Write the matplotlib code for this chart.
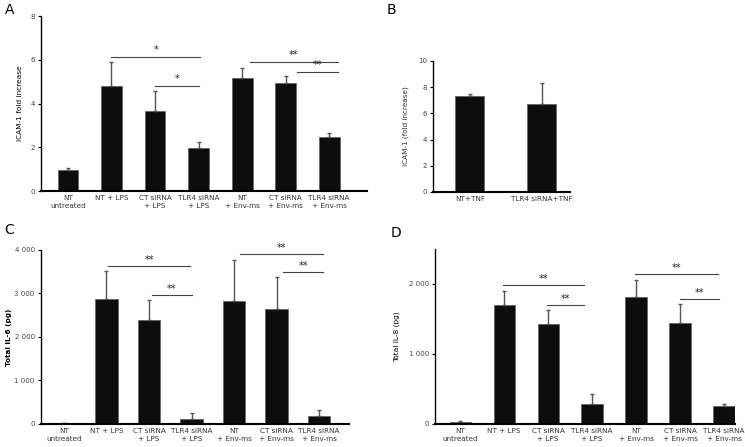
import matplotlib
matplotlib.use("Agg")
import matplotlib.pyplot as plt
from matplotlib.ticker import FuncFormatter

plt.rcParams['font.family'] = ['DejaVu Sans']

# category labels
groups7 = ["NT\nuntreated", "NT + LPS", "CT siRNA\n+ LPS", "TLR4 siRNA\n+ LPS",
           "NT\n+ Env-ms", "CT siRNA\n+ Env-ms", "TLR4 siRNA\n+ Env-ms"]
groups_b = ["NT+TNF", "TLR4 siRNA+TNF"]

# panel A: ICAM-1 fold increase
icam_a = [0.98, 4.80, 3.66, 1.95, 5.16, 4.92, 2.46]
icam_a_err = [0.06, 1.11, 0.91, 0.28, 0.48, 0.33, 0.18]
sig_a = [(1.0, 3.03, 6.14, "*"), (2.0, 3.01, 4.8, "*"),
         (4.18, 6.2, 5.9, "**"), (5.26, 6.2, 5.45, "**")]

# panel B: ICAM-1 with TNF
icam_b = [7.33, 6.72]
icam_b_err = [0.16, 1.63]

# panel C: total IL-6
il6 = [15, 2880, 2385, 125, 2820, 2650, 185]
il6_err = [5, 640, 465, 120, 950, 720, 135]
sig_c = [(1.04, 2.96, 3640, "**"), (2.07, 3.0, 2958, "**"),
         (4.14, 6.09, 3900, "**"), (5.15, 6.09, 3487, "**")]

# panel D: total IL-8
il8 = [30, 1705, 1430, 280, 1810, 1445, 262]
il8_err = [14, 195, 200, 145, 250, 265, 22]
sig_d = [(0.98, 2.82, 1986, "**"), (1.97, 2.82, 1700, "**"),
         (3.98, 5.86, 2143, "**"), (4.99, 5.88, 1786, "**")]


def thousands(v, pos):
    return "{:,}".format(int(v)).replace(",", " ")


def draw_bars(ax, labels, vals, errs, width):
    x = list(range(len(vals)))
    ax.bar(x, vals, width=width, color="#0d0d0d", edgecolor="#666666", linewidth=0.6,
           yerr=[[0] * len(errs), errs], capsize=1.5,
           error_kw=dict(ecolor="#555555", elinewidth=1.0, capthick=1.0))
    ax.set_xticks(x)
    ax.set_xticklabels(labels, fontsize=5.2, color="#333333", linespacing=1.3)
    ax.tick_params(axis="x", length=0, pad=3)
    ax.tick_params(axis="y", labelsize=5, labelcolor="#444444", length=2.5, width=0.8, pad=2)
    for s in ["top", "right"]:
        ax.spines[s].set_visible(False)
    ax.spines["left"].set_linewidth(1.0)
    ax.spines["bottom"].set_linewidth(1.5)


def draw_sig(ax, sigs, dy):
    for x0, x1, y, lab in sigs:
        ax.plot([x0, x1], [y, y], color="#444444", lw=0.8)
        ax.text((x0 + x1) / 2, y + dy, lab, ha="center", va="center", fontsize=7,
                color="#222222")


fig = plt.figure(figsize=(7.45, 4.47), dpi=100)

# A
ax_a = fig.add_axes([0.055, 0.5727, 0.4376, 0.3915])
draw_bars(ax_a, groups7, icam_a, icam_a_err, 0.48)
ax_a.set_xlim(-0.62, 6.87)
ax_a.set_ylim(0, 8)
ax_a.set_yticks([0, 2, 4, 6, 8])
ax_a.set_ylabel("ICAM-1 fold increase", fontsize=5.3, labelpad=5)
draw_sig(ax_a, sig_a, 0.3)

# B
ax_b = fig.add_axes([0.5812, 0.5705, 0.1839, 0.2931])
draw_bars(ax_b, groups_b, icam_b, icam_b_err, 0.4)
ax_b.set_xlim(-0.51, 1.39)
ax_b.set_ylim(0, 10)
ax_b.set_yticks([0, 2, 4, 6, 8, 10])
ax_b.set_ylabel("ICAM-1 (fold increase)", fontsize=5.2, labelpad=6, color="#333333")

# C
ax_c = fig.add_axes([0.055, 0.0515, 0.4134, 0.3893])
draw_bars(ax_c, groups7, il6, il6_err, 0.53)
ax_c.set_xlim(-0.54, 6.7)
ax_c.set_ylim(0, 4000)
ax_c.set_yticks([0, 1000, 2000, 3000, 4000])
ax_c.yaxis.set_major_formatter(FuncFormatter(thousands))
ax_c.set_ylabel("Total IL-6 (pg)", fontsize=5.2, fontweight="bold", labelpad=2)
draw_sig(ax_c, sig_c, 140)

# D
ax_d = fig.add_axes([0.5839, 0.0515, 0.4027, 0.3915])
draw_bars(ax_d, groups7, il8, il8_err, 0.48)
ax_d.set_xlim(-0.57, 6.25)
ax_d.set_ylim(0, 2500)
ax_d.set_yticks([0, 1000, 2000])
ax_d.yaxis.set_major_formatter(FuncFormatter(thousands))
ax_d.set_ylabel("Total IL-8 (pg)", fontsize=5.3, labelpad=6)
draw_sig(ax_d, sig_d, 90)

# panel letters
for lab, x, y in [("A", 0.006, 0.978), ("B", 0.519, 0.978), ("C", 0.006, 0.485), ("D", 0.524, 0.478)]:
    fig.text(x, y, lab, fontsize=10, ha="left", va="center")

fig.savefig("out.png", dpi=100)
